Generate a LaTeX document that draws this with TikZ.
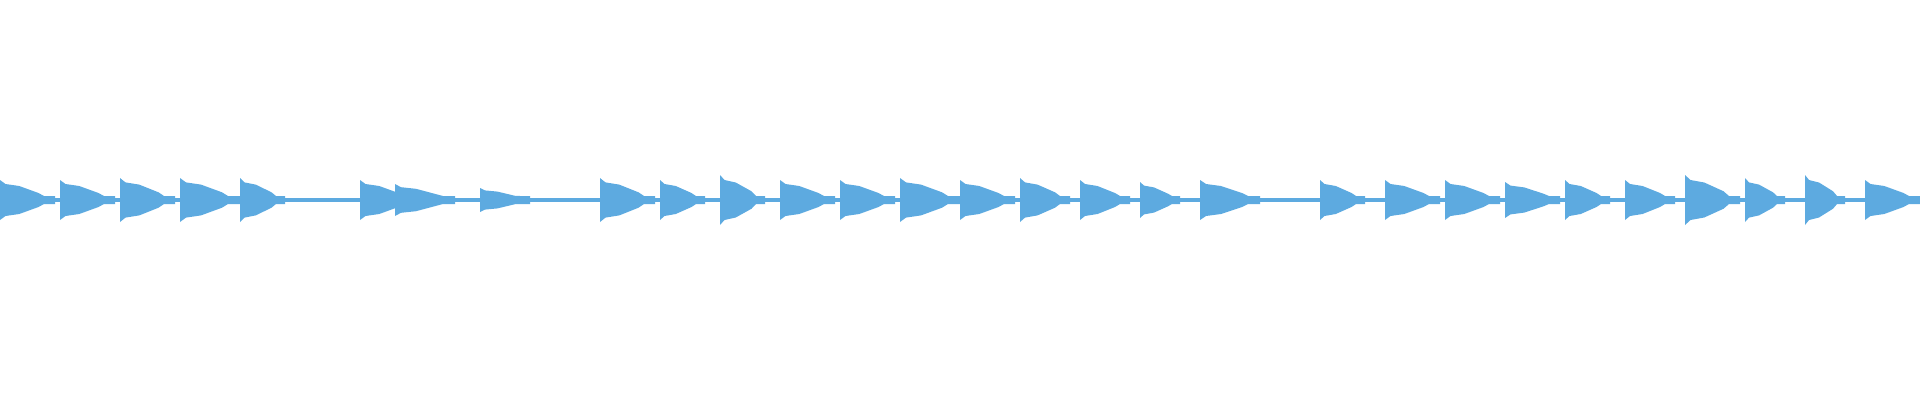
\documentclass[tikz,border=0pt]{standalone}
\definecolor{wave}{HTML}{5DAAE0}
\tikzset{wave/.style={fill=wave,draw=none}}
\begin{document}
\begin{tikzpicture}[x=1pt,y=-1pt]
  \useasboundingbox (0,0) rectangle (1920,400);

  %% quiet floor
  \fill[wave] (0,198) rectangle (1920,202);

  %% note onsets: x / amplitude / decay length
  \foreach \x/\a/\l in {0/20/55, 60/20/55, 120/22/55, 180/22/60, 240/22/45,
      360/20/55, 395/16/60, 480/12/50, 600/22/55, 660/20/45, 720/25/45,
      780/20/55, 840/20/55, 900/22/60, 960/20/55, 1020/22/50, 1080/20/50,
      1140/18/40, 1200/20/60, 1320/20/45, 1385/20/55, 1445/20/55,
      1505/18/55, 1565/20/45, 1625/20/50, 1685/25/55, 1745/22/40,
      1805/25/40, 1865/20/55}{
    \fill[wave] (\x,200-\a) -- (\x+0.1*\l,200-0.8*\a)
      -- (\x+0.35*\l,200-0.7*\a) -- (\x+0.7*\l,200-0.35*\a)
      -- (\x+0.8*\l,196) -- (\x+\l,196) -- (\x+\l,204)
      -- (\x+0.8*\l,204) -- (\x+0.7*\l,200+0.35*\a)
      -- (\x+0.35*\l,200+0.7*\a) -- (\x+0.1*\l,200+0.8*\a)
      -- (\x,200+\a) -- cycle;
  }
\end{tikzpicture}
\end{document}
